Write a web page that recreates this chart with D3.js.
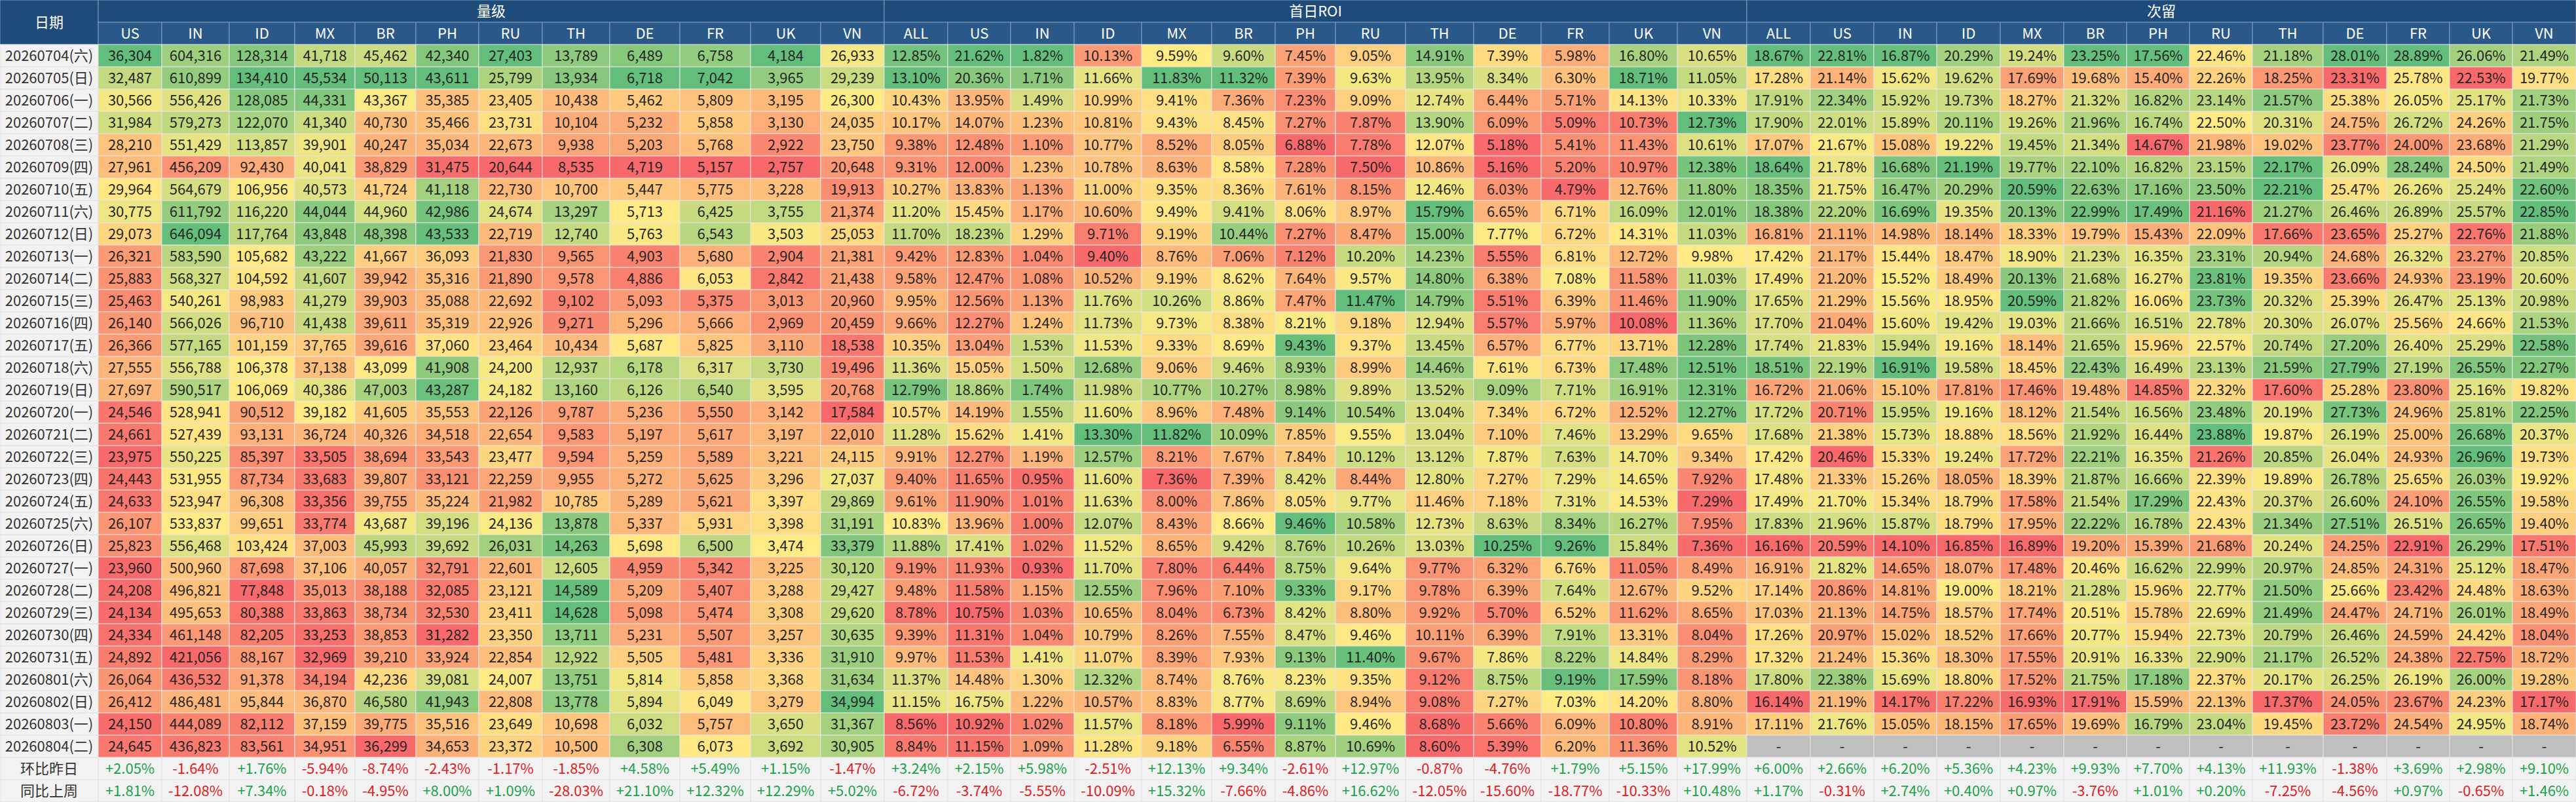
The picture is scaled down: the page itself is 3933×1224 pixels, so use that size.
<!DOCTYPE html>
<html lang="zh-CN">
<head>
<meta charset="UTF-8">
<title>量级 / 首日ROI / 次留</title>
<script src="https://d3js.org/d3.v7.min.js"></script>
<style>
  body { margin: 0; background: #fff; }
  svg { display: block; font-family: "Noto Sans CJK SC", "Noto Sans", sans-serif; }
  .hdr rect { stroke: #7f9dc0; stroke-width: 1px; }
  .hdr text { fill: #fff; font-size: 22px; }
  .cell rect { stroke: #e4e4e4; stroke-width: 1px; }
  .cell text { fill: #262626; font-size: 22px; }
</style>
</head>
<body>
<svg></svg>
<script>
// ---- data ----
const dates = [
  "20260704(六)", "20260705(日)", "20260706(一)", "20260707(二)", "20260708(三)", "20260709(四)",
  "20260710(五)", "20260711(六)", "20260712(日)", "20260713(一)", "20260714(二)", "20260715(三)",
  "20260716(四)", "20260717(五)", "20260718(六)", "20260719(日)", "20260720(一)", "20260721(二)",
  "20260722(三)", "20260723(四)", "20260724(五)", "20260725(六)", "20260726(日)", "20260727(一)",
  "20260728(二)", "20260729(三)", "20260730(四)", "20260731(五)", "20260801(六)", "20260802(日)",
  "20260803(一)", "20260804(二)"
];
const summaryLabels = ["环比昨日", "同比上周"];

const volumeCountries = ["US", "IN", "ID", "MX", "BR", "PH", "RU", "TH", "DE", "FR", "UK", "VN"];
const rateCountries = ["ALL", "US", "IN", "ID", "MX", "BR", "PH", "RU", "TH", "DE", "FR", "UK", "VN"];

// 量级
const volume = [
  [36304, 604316, 128314, 41718, 45462, 42340, 27403, 13789, 6489, 6758, 4184, 26933],
  [32487, 610899, 134410, 45534, 50113, 43611, 25799, 13934, 6718, 7042, 3965, 29239],
  [30566, 556426, 128085, 44331, 43367, 35385, 23405, 10438, 5462, 5809, 3195, 26300],
  [31984, 579273, 122070, 41340, 40730, 35466, 23731, 10104, 5232, 5858, 3130, 24035],
  [28210, 551429, 113857, 39901, 40247, 35034, 22673, 9938, 5203, 5768, 2922, 23750],
  [27961, 456209, 92430, 40041, 38829, 31475, 20644, 8535, 4719, 5157, 2757, 20648],
  [29964, 564679, 106956, 40573, 41724, 41118, 22730, 10700, 5447, 5775, 3228, 19913],
  [30775, 611792, 116220, 44044, 44960, 42986, 24674, 13297, 5713, 6425, 3755, 21374],
  [29073, 646094, 117764, 43848, 48398, 43533, 22719, 12740, 5763, 6543, 3503, 25053],
  [26321, 583590, 105682, 43222, 41667, 36093, 21830, 9565, 4903, 5680, 2904, 21381],
  [25883, 568327, 104592, 41607, 39942, 35316, 21890, 9578, 4886, 6053, 2842, 21438],
  [25463, 540261, 98983, 41279, 39903, 35088, 22692, 9102, 5093, 5375, 3013, 20960],
  [26140, 566026, 96710, 41438, 39611, 35319, 22926, 9271, 5296, 5666, 2969, 20459],
  [26366, 577165, 101159, 37765, 39616, 37060, 23464, 10434, 5687, 5825, 3110, 18538],
  [27555, 556788, 106378, 37138, 43099, 41908, 24200, 12937, 6178, 6317, 3730, 19496],
  [27697, 590517, 106069, 40386, 47003, 43287, 24182, 13160, 6126, 6540, 3595, 20768],
  [24546, 528941, 90512, 39182, 41605, 35553, 22126, 9787, 5236, 5550, 3142, 17584],
  [24661, 527439, 93131, 36724, 40326, 34518, 22654, 9583, 5197, 5617, 3197, 22010],
  [23975, 550225, 85397, 33505, 38694, 33543, 23477, 9594, 5259, 5589, 3221, 24115],
  [24443, 531955, 87734, 33683, 39807, 33121, 22259, 9955, 5272, 5625, 3296, 27037],
  [24633, 523947, 96308, 33356, 39755, 35224, 21982, 10785, 5289, 5621, 3397, 29869],
  [26107, 533837, 99651, 33774, 43687, 39196, 24136, 13878, 5337, 5931, 3398, 31191],
  [25823, 556468, 103424, 37003, 45993, 39692, 26031, 14263, 5698, 6500, 3474, 33379],
  [23960, 500960, 87698, 37106, 40057, 32791, 22601, 12605, 4959, 5342, 3225, 30120],
  [24208, 496821, 77848, 35013, 38188, 32085, 23121, 14589, 5209, 5407, 3288, 29427],
  [24134, 495653, 80388, 33863, 38734, 32530, 23411, 14628, 5098, 5474, 3308, 29620],
  [24334, 461148, 82205, 33253, 38853, 31282, 23350, 13711, 5231, 5507, 3257, 30635],
  [24892, 421056, 88167, 32969, 39210, 33924, 22854, 12922, 5505, 5481, 3336, 31910],
  [26064, 436532, 91378, 34194, 42236, 39081, 24007, 13751, 5814, 5858, 3368, 31634],
  [26412, 486481, 95844, 36870, 46580, 41943, 22808, 13778, 5894, 6049, 3279, 34994],
  [24150, 444089, 82112, 37159, 39775, 35516, 23649, 10698, 6032, 5757, 3650, 31367],
  [24645, 436823, 83561, 34951, 36299, 34653, 23372, 10500, 6308, 6073, 3692, 30905]
];
const volumeDoD = [2.05, -1.64, 1.76, -5.94, -8.74, -2.43, -1.17, -1.85, 4.58, 5.49, 1.15, -1.47];
const volumeWoW = [1.81, -12.08, 7.34, -0.18, -4.95, 8.00, 1.09, -28.03, 21.10, 12.32, 12.29, 5.02];

// 首日ROI (%)
const roi = [
  [12.85, 21.62, 1.82, 10.13, 9.59, 9.60, 7.45, 9.05, 14.91, 7.39, 5.98, 16.80, 10.65],
  [13.10, 20.36, 1.71, 11.66, 11.83, 11.32, 7.39, 9.63, 13.95, 8.34, 6.30, 18.71, 11.05],
  [10.43, 13.95, 1.49, 10.99, 9.41, 7.36, 7.23, 9.09, 12.74, 6.44, 5.71, 14.13, 10.33],
  [10.17, 14.07, 1.23, 10.81, 9.43, 8.45, 7.27, 7.87, 13.90, 6.09, 5.09, 10.73, 12.73],
  [9.38, 12.48, 1.10, 10.77, 8.52, 8.05, 6.88, 7.78, 12.07, 5.18, 5.41, 11.43, 10.61],
  [9.31, 12.00, 1.23, 10.78, 8.63, 8.58, 7.28, 7.50, 10.86, 5.16, 5.20, 10.97, 12.38],
  [10.27, 13.83, 1.13, 11.00, 9.35, 8.36, 7.61, 8.15, 12.46, 6.03, 4.79, 12.76, 11.80],
  [11.20, 15.45, 1.17, 10.60, 9.49, 9.41, 8.06, 8.97, 15.79, 6.65, 6.71, 16.09, 12.01],
  [11.70, 18.23, 1.29, 9.71, 9.19, 10.44, 7.27, 8.47, 15.00, 7.77, 6.72, 14.31, 11.03],
  [9.42, 12.83, 1.04, 9.40, 8.76, 7.06, 7.12, 10.20, 14.23, 5.55, 6.81, 12.72, 9.98],
  [9.58, 12.47, 1.08, 10.52, 9.19, 8.62, 7.64, 9.57, 14.80, 6.38, 7.08, 11.58, 11.03],
  [9.95, 12.56, 1.13, 11.76, 10.26, 8.86, 7.47, 11.47, 14.79, 5.51, 6.39, 11.46, 11.90],
  [9.66, 12.27, 1.24, 11.73, 9.73, 8.38, 8.21, 9.18, 12.94, 5.57, 5.97, 10.08, 11.36],
  [10.35, 13.04, 1.53, 11.53, 9.33, 8.69, 9.43, 9.37, 13.45, 6.57, 6.77, 13.71, 12.28],
  [11.36, 15.05, 1.50, 12.68, 9.06, 9.46, 8.93, 8.99, 14.46, 7.61, 6.73, 17.48, 12.51],
  [12.79, 18.86, 1.74, 11.98, 10.77, 10.27, 8.98, 9.89, 13.52, 9.09, 7.71, 16.91, 12.31],
  [10.57, 14.19, 1.55, 11.60, 8.96, 7.48, 9.14, 10.54, 13.04, 7.34, 6.72, 12.52, 12.27],
  [11.28, 15.62, 1.41, 13.30, 11.82, 10.09, 7.85, 9.55, 13.04, 7.10, 7.46, 13.29, 9.65],
  [9.91, 12.27, 1.19, 12.57, 8.21, 7.67, 7.84, 10.12, 13.12, 7.87, 7.63, 14.70, 9.34],
  [9.40, 11.65, 0.95, 11.60, 7.36, 7.39, 8.42, 8.44, 12.80, 7.27, 7.29, 14.65, 7.92],
  [9.61, 11.90, 1.01, 11.63, 8.00, 7.86, 8.05, 9.77, 11.46, 7.18, 7.31, 14.53, 7.29],
  [10.83, 13.96, 1.00, 12.07, 8.43, 8.66, 9.46, 10.58, 12.73, 8.63, 8.34, 16.27, 7.95],
  [11.88, 17.41, 1.02, 11.52, 8.65, 9.42, 8.76, 10.26, 13.03, 10.25, 9.26, 15.84, 7.36],
  [9.19, 11.93, 0.93, 11.70, 7.80, 6.44, 8.75, 9.64, 9.77, 6.32, 6.76, 11.05, 8.49],
  [9.48, 11.58, 1.15, 12.55, 7.96, 7.10, 9.33, 9.17, 9.78, 6.39, 7.64, 12.67, 9.52],
  [8.78, 10.75, 1.03, 10.65, 8.04, 6.73, 8.42, 8.80, 9.92, 5.70, 6.52, 11.62, 8.65],
  [9.39, 11.31, 1.04, 10.79, 8.26, 7.55, 8.47, 9.46, 10.11, 6.39, 7.91, 13.31, 8.04],
  [9.97, 11.53, 1.41, 11.07, 8.39, 7.93, 9.13, 11.40, 9.67, 7.86, 8.22, 14.84, 8.29],
  [11.37, 14.48, 1.30, 12.32, 8.74, 8.76, 8.23, 9.35, 9.12, 8.75, 9.19, 17.59, 8.18],
  [11.15, 16.75, 1.22, 10.57, 8.83, 8.77, 8.69, 8.94, 9.08, 7.27, 7.03, 14.20, 8.80],
  [8.56, 10.92, 1.02, 11.57, 8.18, 5.99, 9.11, 9.46, 8.68, 5.66, 6.09, 10.80, 8.91],
  [8.84, 11.15, 1.09, 11.28, 9.18, 6.55, 8.87, 10.69, 8.60, 5.39, 6.20, 11.36, 10.52]
];
const roiDoD = [3.24, 2.15, 5.98, -2.51, 12.13, 9.34, -2.61, 12.97, -0.87, -4.76, 1.79, 5.15, 17.99];
const roiWoW = [-6.72, -3.74, -5.55, -10.09, 15.32, -7.66, -4.86, 16.62, -12.05, -15.60, -18.77, -10.33, 10.48];

// 次留 (%), last day not matured yet
const retention = [
  [18.67, 22.81, 16.87, 20.29, 19.24, 23.25, 17.56, 22.46, 21.18, 28.01, 28.89, 26.06, 21.49],
  [17.28, 21.14, 15.62, 19.62, 17.69, 19.68, 15.40, 22.26, 18.25, 23.31, 25.78, 22.53, 19.77],
  [17.91, 22.34, 15.92, 19.73, 18.27, 21.32, 16.82, 23.14, 21.57, 25.38, 26.05, 25.17, 21.73],
  [17.90, 22.01, 15.89, 20.11, 19.26, 21.96, 16.74, 22.50, 20.31, 24.75, 26.72, 24.26, 21.75],
  [17.07, 21.67, 15.08, 19.22, 19.45, 21.34, 14.67, 21.98, 19.02, 23.77, 24.00, 23.68, 21.29],
  [18.64, 21.78, 16.68, 21.19, 19.77, 22.10, 16.82, 23.15, 22.17, 26.09, 28.24, 24.50, 21.49],
  [18.35, 21.75, 16.47, 20.29, 20.59, 22.63, 17.16, 23.50, 22.21, 25.47, 26.26, 25.24, 22.60],
  [18.38, 22.20, 16.69, 19.35, 20.13, 22.99, 17.49, 21.16, 21.27, 26.46, 26.89, 25.57, 22.85],
  [16.81, 21.11, 14.98, 18.14, 18.33, 19.79, 15.43, 22.09, 17.66, 23.65, 25.27, 22.76, 21.88],
  [17.42, 21.17, 15.44, 18.47, 18.90, 21.23, 16.35, 23.31, 20.94, 24.68, 26.32, 23.27, 20.85],
  [17.49, 21.20, 15.52, 18.49, 20.13, 21.68, 16.27, 23.81, 19.35, 23.66, 24.93, 23.19, 20.60],
  [17.65, 21.29, 15.56, 18.95, 20.59, 21.82, 16.06, 23.73, 20.32, 25.39, 26.47, 25.13, 20.98],
  [17.70, 21.04, 15.60, 19.42, 19.03, 21.66, 16.51, 22.78, 20.30, 26.07, 25.56, 24.66, 21.53],
  [17.74, 21.83, 15.94, 19.16, 18.14, 21.65, 15.96, 22.57, 20.74, 27.20, 26.40, 25.29, 22.58],
  [18.51, 22.19, 16.91, 19.58, 18.45, 22.43, 16.49, 23.13, 21.59, 27.79, 27.19, 26.55, 22.27],
  [16.72, 21.06, 15.10, 17.81, 17.46, 19.48, 14.85, 22.32, 17.60, 25.28, 23.80, 25.16, 19.82],
  [17.72, 20.71, 15.95, 19.16, 18.12, 21.54, 16.56, 23.48, 20.19, 27.73, 24.96, 25.81, 22.25],
  [17.68, 21.38, 15.73, 18.88, 18.56, 21.92, 16.44, 23.88, 19.87, 26.19, 25.00, 26.68, 20.37],
  [17.42, 20.46, 15.33, 19.24, 17.72, 22.21, 16.35, 21.26, 20.85, 26.04, 24.93, 26.96, 19.73],
  [17.48, 21.33, 15.26, 18.05, 18.39, 21.87, 16.66, 22.39, 19.89, 26.78, 25.65, 26.03, 19.92],
  [17.49, 21.70, 15.34, 18.79, 17.58, 21.54, 17.29, 22.43, 20.37, 26.60, 24.10, 26.55, 19.58],
  [17.83, 21.96, 15.87, 18.79, 17.95, 22.22, 16.78, 22.43, 21.34, 27.51, 26.51, 26.65, 19.40],
  [16.16, 20.59, 14.10, 16.85, 16.89, 19.20, 15.39, 21.68, 20.24, 24.25, 22.91, 26.29, 17.51],
  [16.91, 21.82, 14.65, 18.07, 17.48, 20.46, 16.62, 22.99, 20.97, 24.85, 24.31, 25.12, 18.47],
  [17.14, 20.86, 14.81, 19.00, 18.21, 21.28, 15.96, 22.77, 21.50, 25.66, 23.42, 24.48, 18.63],
  [17.03, 21.13, 14.75, 18.57, 17.74, 20.51, 15.78, 22.69, 21.49, 24.47, 24.71, 26.01, 18.49],
  [17.26, 20.97, 15.02, 18.52, 17.66, 20.77, 15.94, 22.73, 20.79, 26.46, 24.59, 24.42, 18.04],
  [17.32, 21.24, 15.36, 18.30, 17.55, 20.91, 16.33, 22.90, 21.17, 26.52, 24.38, 22.75, 18.72],
  [17.80, 22.38, 15.69, 18.80, 17.52, 21.75, 17.18, 22.37, 20.17, 26.25, 26.19, 26.00, 19.28],
  [16.14, 21.19, 14.17, 17.22, 16.93, 17.91, 15.59, 22.13, 17.37, 24.05, 23.67, 24.23, 17.17],
  [17.11, 21.76, 15.05, 18.15, 17.65, 19.69, 16.79, 23.04, 19.45, 23.72, 24.54, 24.95, 18.74],
  [null, null, null, null, null, null, null, null, null, null, null, null, null]
];
const retentionDoD = [6.00, 2.66, 6.20, 5.36, 4.23, 9.93, 7.70, 4.13, 11.93, -1.38, 3.69, 2.98, 9.10];
const retentionWoW = [1.17, -0.31, 2.74, 0.40, 0.97, -3.76, 1.01, 0.20, -7.25, -4.56, 0.97, -0.65, 1.46];

// ---- layout ----
const width = 3933, height = 1224;
const headH = 34;
const dateW = 150;
const volumeW = [97, 103, 100, 92, 93, 96, 97, 103, 107, 108, 107, 97];
const roiW = [97, 96, 97, 103, 107, 97, 92, 107, 104, 103, 104, 104, 106];
const retentionW = [97, 97, 96, 97, 97, 96, 96, 96, 108, 97, 96, 96, 97];

const fmtInt = d3.format(",");
const fmtPct = v => v.toFixed(2) + "%";
const fmtSigned = v => (v >= 0 ? "+" : "") + v.toFixed(2) + "%";

const groups = [
  { title: "量级", keys: volumeCountries, rows: volume, widths: volumeW, fmt: fmtInt, summary: [volumeDoD, volumeWoW] },
  { title: "首日ROI", keys: rateCountries, rows: roi, widths: roiW, fmt: fmtPct, summary: [roiDoD, roiWoW] },
  { title: "次留", keys: rateCountries, rows: retention, widths: retentionW, fmt: fmtPct, summary: [retentionDoD, retentionWoW] }
];

// flatten into columns with x offsets; each column gets its own red-yellow-green scale
let cursor = dateW;
const columns = [];
groups.forEach(g => {
  g.x = cursor;
  g.keys.forEach((k, i) => {
    const values = g.rows.map(r => r[i]);
    const ext = d3.extent(values.filter(v => v != null));
    columns.push({
      group: g, key: k, x: cursor, w: g.widths[i], values,
      summary: g.summary.map(s => s[i]),
      color: d3.scaleLinear()
        .domain([ext[0], (ext[0] + ext[1]) / 2, ext[1]])
        .range(["#f8696b", "#ffeb84", "#63be7b"])
    });
    cursor += g.widths[i];
  });
  g.w = cursor - g.x;
});

const rowKeys = dates.concat(summaryLabels);
const y = d3.scaleBand().domain(rowKeys).range([headH * 2, height]);

const svg = d3.select("svg").attr("width", width).attr("height", height);

// header
const hdr = svg.append("g").attr("class", "hdr");
function hcell(x, y0, w, h, label, fill) {
  const c = hdr.append("g");
  c.append("rect").attr("x", x).attr("y", y0).attr("width", w).attr("height", h).attr("fill", fill);
  c.append("text").attr("x", x + w / 2).attr("y", y0 + h / 2)
    .attr("text-anchor", "middle").attr("dy", "0.35em").text(label);
}
hcell(0, 0, dateW, headH * 2, "日期", "#1f4b7b");
groups.forEach(g => hcell(g.x, 0, g.w, headH, g.title, "#1f4b7b"));
columns.forEach(c => hcell(c.x, headH, c.w, headH, c.key, "#2a5889"));

// date column
const dateCells = svg.append("g").attr("class", "cell")
  .selectAll("g").data(rowKeys).join("g");
dateCells.append("rect")
  .attr("x", 0).attr("y", d => y(d))
  .attr("width", dateW).attr("height", y.bandwidth())
  .attr("fill", "#f2f2f2");
dateCells.append("text")
  .attr("x", dateW / 2).attr("y", d => y(d) + y.bandwidth() / 2)
  .attr("dy", "0.35em").attr("text-anchor", "middle")
  .style("fill", "#333").text(d => d);

// heat cells
const cells = [];
columns.forEach(c => {
  c.values.forEach((v, i) => cells.push({ c, row: dates[i], v }));
});
const cg = svg.append("g").attr("class", "cell")
  .selectAll("g").data(cells).join("g");
cg.append("rect")
  .attr("x", d => d.c.x).attr("y", d => y(d.row))
  .attr("width", d => d.c.w).attr("height", y.bandwidth())
  .attr("fill", d => d.v == null ? "#bfbfbf" : d.c.color(d.v));
cg.append("text")
  .attr("x", d => d.c.x + d.c.w / 2).attr("y", d => y(d.row) + y.bandwidth() / 2)
  .attr("dy", "0.35em").attr("text-anchor", "middle")
  .text(d => d.v == null ? "-" : d.c.group.fmt(d.v));

// summary rows
const sums = [];
columns.forEach(c => {
  c.summary.forEach((v, i) => sums.push({ c, row: summaryLabels[i], v }));
});
const sg = svg.append("g").attr("class", "cell")
  .selectAll("g").data(sums).join("g");
sg.append("rect")
  .attr("x", d => d.c.x).attr("y", d => y(d.row))
  .attr("width", d => d.c.w).attr("height", y.bandwidth())
  .attr("fill", "#f2f2f2");
sg.append("text")
  .attr("x", d => d.c.x + d.c.w / 2).attr("y", d => y(d.row) + y.bandwidth() / 2)
  .attr("dy", "0.35em").attr("text-anchor", "middle")
  .style("fill", d => d.v >= 0 ? "#1ba34a" : "#e0201f")
  .text(d => fmtSigned(d.v));
</script>
</body>
</html>
